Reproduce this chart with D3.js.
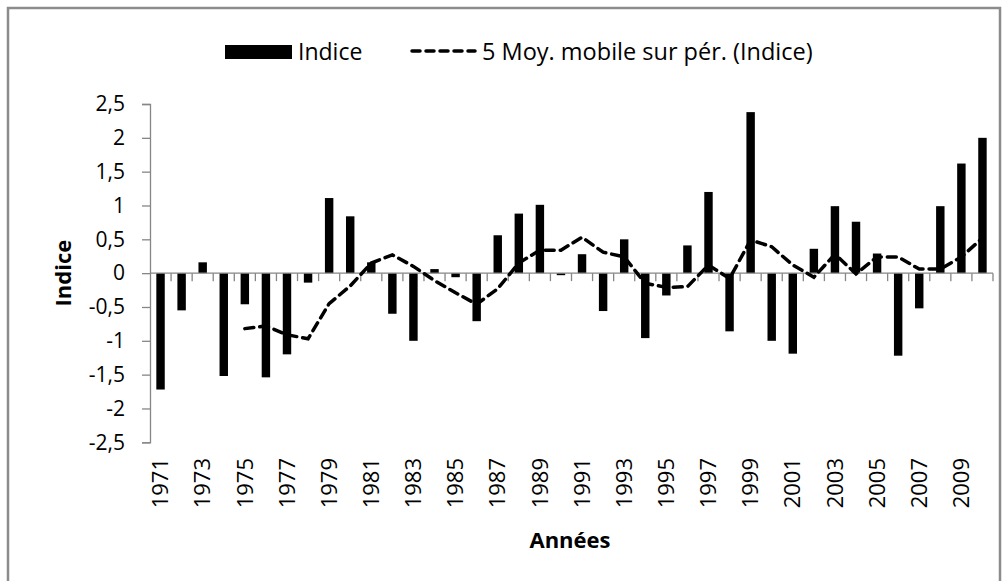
<!DOCTYPE html>
<html>
<head>
<meta charset="utf-8">
<script src="https://cdn.jsdelivr.net/npm/d3@7"></script>
<style>
  html, body { margin: 0; padding: 0; background: #fff; }
  svg { display: block; }
  text { font-family: "Open Sans", Lato, sans-serif; fill: #000; }
</style>
</head>
<body>
<svg id="chart" width="1008" height="581"></svg>
<script>
// Années et valeurs de l'indice
const years = d3.range(1971, 2011);
const indice = [
  -1.72, -0.55, 0.16, -1.52, -0.46, -1.54, -1.20, -0.14, 1.11, 0.84,
   0.16, -0.60, -1.00, 0.06, -0.06, -0.71, 0.56, 0.88, 1.01, -0.03,
   0.28, -0.56, 0.50, -0.96, -0.33, 0.41, 1.20, -0.86, 2.38, -1.00,
  -1.19, 0.36, 0.99, 0.76, 0.29, -1.22, -0.52, 0.99, 1.62, 2.00
];
// Moyenne mobile sur 5 périodes (à partir de 1975)
const mmYears = d3.range(1975, 2011);
const moyMobile = [
  -0.82, -0.78, -0.91, -0.97, -0.45, -0.19, 0.15, 0.27, 0.10, -0.11,
  -0.29, -0.46, -0.23, 0.15, 0.34, 0.34, 0.53, 0.31, 0.24, -0.15,
  -0.21, -0.20, 0.12, -0.08, 0.49, 0.39, 0.12, -0.06, 0.28, -0.01,
   0.24, 0.24, 0.06, 0.06, 0.24, 0.52
];
const yTicks = [-2.5, -2, -1.5, -1, -0.5, 0, 0.5, 1, 1.5, 2, 2.5];
const labelYears = years.filter((d, i) => i % 2 === 0);

const svg = d3.select("#chart");
const axisGrey = "#868686";
const font = "'Open Sans', Lato, sans-serif";

// cadre du graphique
svg.append("rect")
  .attr("x", 8).attr("y", 8).attr("width", 992).attr("height", 600)
  .attr("fill", "#fff").attr("stroke", "#8c8c8c").attr("stroke-width", 2.5);

const plotLeft = 150, plotRight = 993, plotTop = 104, plotBottom = 442.3;

const x = d3.scaleBand().domain(years).range([plotLeft, plotRight])
  .paddingInner(0.6).paddingOuter(0.3);
const y = d3.scaleLinear().domain([-2.5, 2.5]).range([plotBottom, plotTop]);
const step = x.step();
const cx = d => x(d) + x.bandwidth() / 2;

const fr = d3.formatLocale({decimal: ",", thousands: " ", grouping: [3], currency: ["", " €"], minus: "-"});
const fmt = fr.format("~g");

// axe vertical
const yAxis = svg.append("g")
  .attr("transform", `translate(${plotLeft},0)`)
  .call(d3.axisLeft(y).tickValues(yTicks).tickSize(8).tickPadding(17).tickFormat(fmt));
yAxis.select(".domain").attr("stroke", axisGrey).attr("stroke-width", 1.3);
yAxis.selectAll(".tick line").attr("stroke", axisGrey).attr("stroke-width", 1.3);
yAxis.selectAll(".tick text").attr("font-size", 21).attr("font-family", font).attr("fill", "#000");

// barres
svg.append("g").selectAll("rect").data(years).join("rect")
  .attr("x", d => x(d))
  .attr("width", x.bandwidth())
  .attr("y", (d, i) => y(Math.max(0, indice[i])))
  .attr("height", (d, i) => Math.abs(y(indice[i]) - y(0)))
  .attr("fill", "#000");

// axe horizontal au niveau zéro, graduations entre catégories
const y0 = y(0);
svg.append("line")
  .attr("x1", plotLeft).attr("x2", plotRight).attr("y1", y0).attr("y2", y0)
  .attr("stroke", axisGrey).attr("stroke-width", 1.3);
svg.append("g").selectAll("line").data(years).join("line")
  .attr("x1", d => cx(d) + step / 2).attr("x2", d => cx(d) + step / 2)
  .attr("y1", y0).attr("y2", y0 + 8)
  .attr("stroke", axisGrey).attr("stroke-width", 1.3);

// étiquettes des années
svg.append("g").selectAll("text").data(labelYears).join("text")
  .attr("transform", d => `translate(${cx(d)},458) rotate(-90)`)
  .attr("text-anchor", "end")
  .attr("dy", "0.35em")
  .attr("font-size", 22)
  .text(d => d);

// moyenne mobile
const line = d3.line().x(d => cx(d[0])).y(d => y(d[1]));
svg.append("path")
  .datum(mmYears.map((d, i) => [d, moyMobile[i]]))
  .attr("d", line)
  .attr("fill", "none").attr("stroke", "#000").attr("stroke-width", 3.5)
  .attr("stroke-dasharray", "9,6").attr("stroke-linecap", "round");

// titres des axes
svg.append("text")
  .attr("transform", `translate(63,${y0}) rotate(-90)`)
  .attr("text-anchor", "middle").attr("dy", "0.35em")
  .attr("font-size", 22).attr("font-weight", "bold")
  .text("Indice");
svg.append("text")
  .attr("x", 570).attr("y", 540).attr("dy", "0.35em")
  .attr("text-anchor", "middle")
  .attr("font-size", 22).attr("font-weight", "bold")
  .text("Années");

// légende
const lg = svg.append("g");
lg.append("rect").attr("x", 225).attr("y", 45).attr("width", 67).attr("height", 14).attr("fill", "#000");
lg.append("text").attr("x", 298).attr("y", 52).attr("dy", "0.35em").attr("font-size", 23).text("Indice");
lg.append("line").attr("x1", 412).attr("x2", 475).attr("y1", 51).attr("y2", 51)
  .attr("stroke", "#000").attr("stroke-width", 3.5)
  .attr("stroke-dasharray", "8,6").attr("stroke-linecap", "round");
lg.append("text").attr("x", 482).attr("y", 52).attr("dy", "0.35em").attr("font-size", 23.5)
  .text("5 Moy. mobile sur pér. (Indice)");
</script>
</body>
</html>
